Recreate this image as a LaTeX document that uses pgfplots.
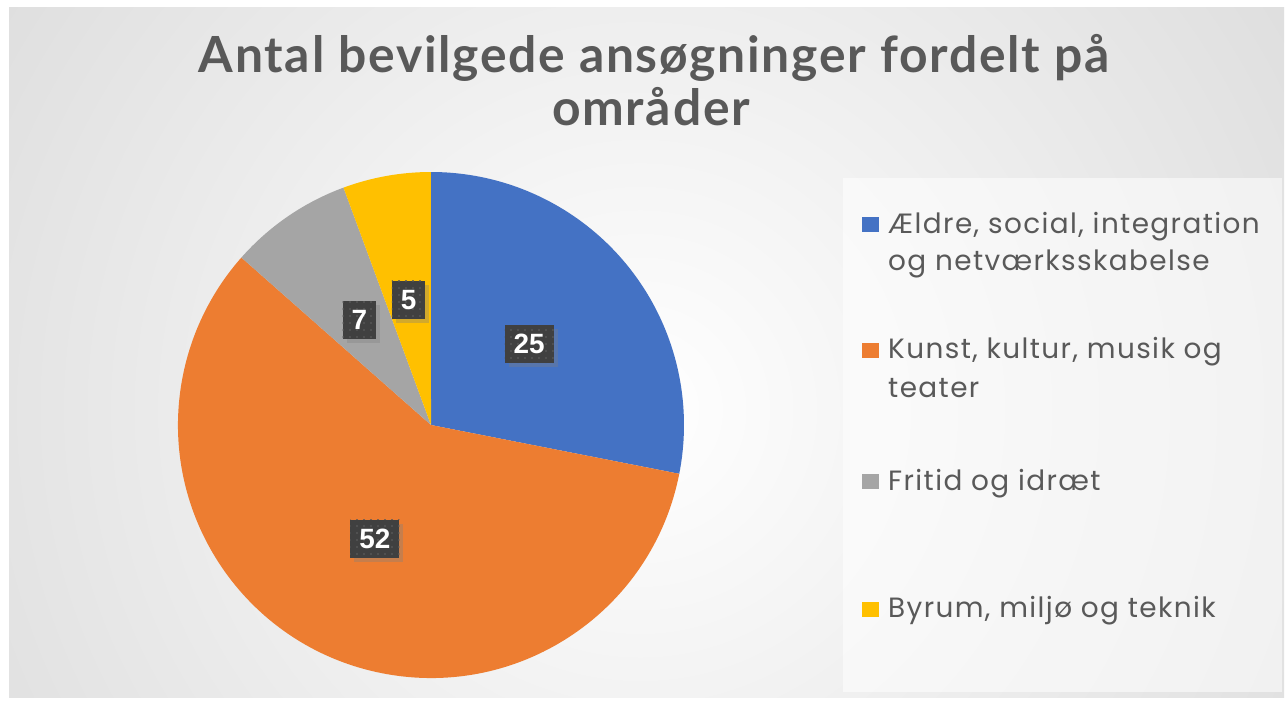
\documentclass[border=0pt]{standalone}
\usepackage{pgfplots}
\pgfplotsset{compat=1.18}
\usepackage{pgfplotstable}
\usepackage{fontspec}
\setmainfont{Lato}
\newfontfamily\titlefont{Lato}[LetterSpace=3.5]
\newfontfamily\legfont{Poppins}[LetterSpace=5]
\newfontfamily\labelfont{Liberation Sans}
\usetikzlibrary{shadows,patterns.meta}

\definecolor{cBlue}{HTML}{4472C4}
\definecolor{cOrange}{HTML}{ED7D31}
\definecolor{cGray}{HTML}{A5A5A5}
\definecolor{cYellow}{HTML}{FFC000}
\definecolor{txt}{HTML}{595959}
\definecolor{lbl}{HTML}{404040}

% number of granted applications per area
\pgfplotstableread{
value color
25 cBlue
52 cOrange
7  cGray
5  cYellow
}\piedata

\tikzset{
  pielabel/.style={fill=lbl, text=white, inner xsep=9bp, inner ysep=0pt,
    minimum height=38bp,
    font=\labelfont\bfseries\fontsize{28}{28}\selectfont,
    postaction={pattern={Dots[distance=7bp, radius=1.1bp]}, pattern color=white!12!lbl},
    drop shadow={opacity=0.35, shadow xshift=4bp, shadow yshift=-4bp}},
  legtext/.style={anchor=base west, text=txt, inner sep=0pt,
    font=\legfont\fontsize{28}{37}\selectfont, align=left},
}

\begin{document}
\begin{tikzpicture}
\begin{axis}[
    width=1287bp, height=701bp, scale only axis,
    xmin=0, xmax=1287, ymin=0, ymax=701, y dir=reverse,
    axis lines=none, clip=false,
]
% background
\fill[white] (axis cs:0,0) rectangle (axis cs:1287,701);
\begin{scope}
  \clip (axis cs:9,8) rectangle (axis cs:1284,697);
  \shade[inner color=white, outer color=black!25] (axis cs:640,410) circle[radius=1500bp];
\end{scope}
% legend box
\fill[white, opacity=0.55] (axis cs:843,178) rectangle (axis cs:1282,692);

% total
\pgfplotstablegetrowsof{\piedata}
\pgfmathtruncatemacro\nrows{\pgfplotsretval-1}
\def\total{0}
\pgfplotsforeachungrouped \i in {0,...,\nrows}{%
  \pgfplotstablegetelem{\i}{value}\of\piedata
  \pgfmathsetmacro\total{\total+\pgfplotsretval}%
}
% slices
\def\startangle{90}
\pgfplotsforeachungrouped \i in {0,...,\nrows}{%
  \pgfplotstablegetelem{\i}{value}\of\piedata \let\val\pgfplotsretval
  \pgfplotstablegetelem{\i}{color}\of\piedata \let\col\pgfplotsretval
  \pgfmathsetmacro\endangle{\startangle-\val/\total*360}%
  \edef\temp{\noexpand\fill[\col] (axis cs:431,425) -- ++(\startangle:253bp)
     arc[start angle=\startangle, end angle=\endangle, radius=253bp] -- cycle;}%
  \temp
  \let\startangle\endangle
}
% value labels
\def\startangle{90}
\pgfplotsforeachungrouped \i in {0,...,\nrows}{%
  \pgfplotstablegetelem{\i}{value}\of\piedata \let\val\pgfplotsretval
  \pgfmathsetmacro\endangle{\startangle-\val/\total*360}%
  \pgfmathsetmacro\midangle{(\startangle+\endangle)/2}%
  \edef\temp{\noexpand\node[pielabel] at ([shift={(\midangle:127bp)}]axis cs:431,425) {\val};}%
  \temp
  \let\startangle\endangle
}

% title
\node[anchor=base, text=txt, inner sep=0pt, font=\titlefont\bfseries\fontsize{50}{50}\selectfont]
  at (axis cs:654,73) {Antal bevilgede ansøgninger fordelt på};
\node[anchor=base, text=txt, inner sep=0pt, font=\titlefont\bfseries\fontsize{50}{50}\selectfont]
  at (axis cs:651,126) {områder};

% legend
\fill[cBlue]   (axis cs:862,217) rectangle (axis cs:879,232);
\fill[cOrange] (axis cs:862,343) rectangle (axis cs:879,358);
\fill[cGray]   (axis cs:862,474) rectangle (axis cs:879,489);
\fill[cYellow] (axis cs:862,602) rectangle (axis cs:879,617);
\node[legtext] at (axis cs:888,233) {Ældre, social, integration};
\node[legtext] at (axis cs:888,270) {og netværksskabelse};
\node[legtext] at (axis cs:888,358) {Kunst, kultur, musik og};
\node[legtext] at (axis cs:888,397) {teater};
\node[legtext] at (axis cs:888,490) {Fritid og idræt};
\node[legtext] at (axis cs:888,617) {Byrum, miljø og teknik};
\end{axis}
\end{tikzpicture}
\end{document}
